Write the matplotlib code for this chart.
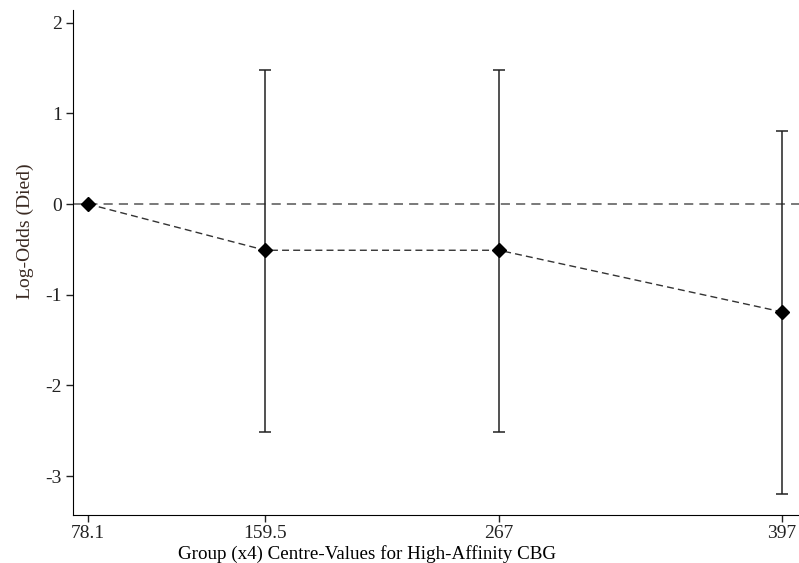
import matplotlib
matplotlib.use('Agg')
import matplotlib.pyplot as plt

# Valeurs
centres = [78.1, 159.5, 267, 397]
log_odds = [0.0, -0.51, -0.51, -1.19]
ci_low = [None, -2.51, -2.51, -3.20]
ci_high = [None, 1.48, 1.48, 0.80]
y_ticks = [-3, -2, -1, 0, 1, 2]

plt.rcParams['font.family'] = ['Liberation Serif', 'DejaVu Serif']
plt.rcParams['axes.unicode_minus'] = False

fig = plt.figure(figsize=(7.99, 5.63), dpi=100)
ax = fig.add_axes([73 / 799, 1 - 515 / 563, 1 - 73 / 799, (515 - 10) / 563])

# ligne de référence à 0
ax.axhline(0, color='#555555', linestyle=(0, (6, 4)), linewidth=1.1, zorder=1)

# intervalles de confiance
for x, lo, hi in zip(centres, ci_low, ci_high):
    if lo is None:
        continue
    ax.errorbar([x], [(lo + hi) / 2], yerr=[[(hi - lo) / 2], [(hi - lo) / 2]],
                fmt='none', ecolor='#222222', elinewidth=1.1, capsize=4.5, capthick=1.1, zorder=2)

ax.plot(centres, log_odds, color='#333333', linestyle=(0, (5, 3)), linewidth=1.0, zorder=3)
ax.plot(centres, log_odds, linestyle='none', marker='D', markersize=7.5, color='black', zorder=4)

ax.set_xlim(71.2, 404.8)
ax.set_ylim(-3.43, 2.14)
ax.set_xticks(centres)
ax.set_xticklabels(['78.1', '159.5', '267', '397'])
ax.set_yticks(y_ticks)
ax.tick_params(labelsize=14, length=5, width=1, direction='out', colors='#222222', pad=3)
ax.tick_params(axis='x', pad=2)
ax.spines['top'].set_visible(False)
ax.spines['right'].set_visible(False)

ax.set_xlabel('Group (x4) Centre-Values for High-Affinity CBG', fontsize=13.7)
ax.set_ylabel('Log-Odds (Died)', fontsize=14, color='#3a2a22')
ax.xaxis.set_label_coords(0.405, -0.059)
ax.yaxis.set_label_coords(-0.054, 0.562)

fig.savefig('out.png', dpi=100)
